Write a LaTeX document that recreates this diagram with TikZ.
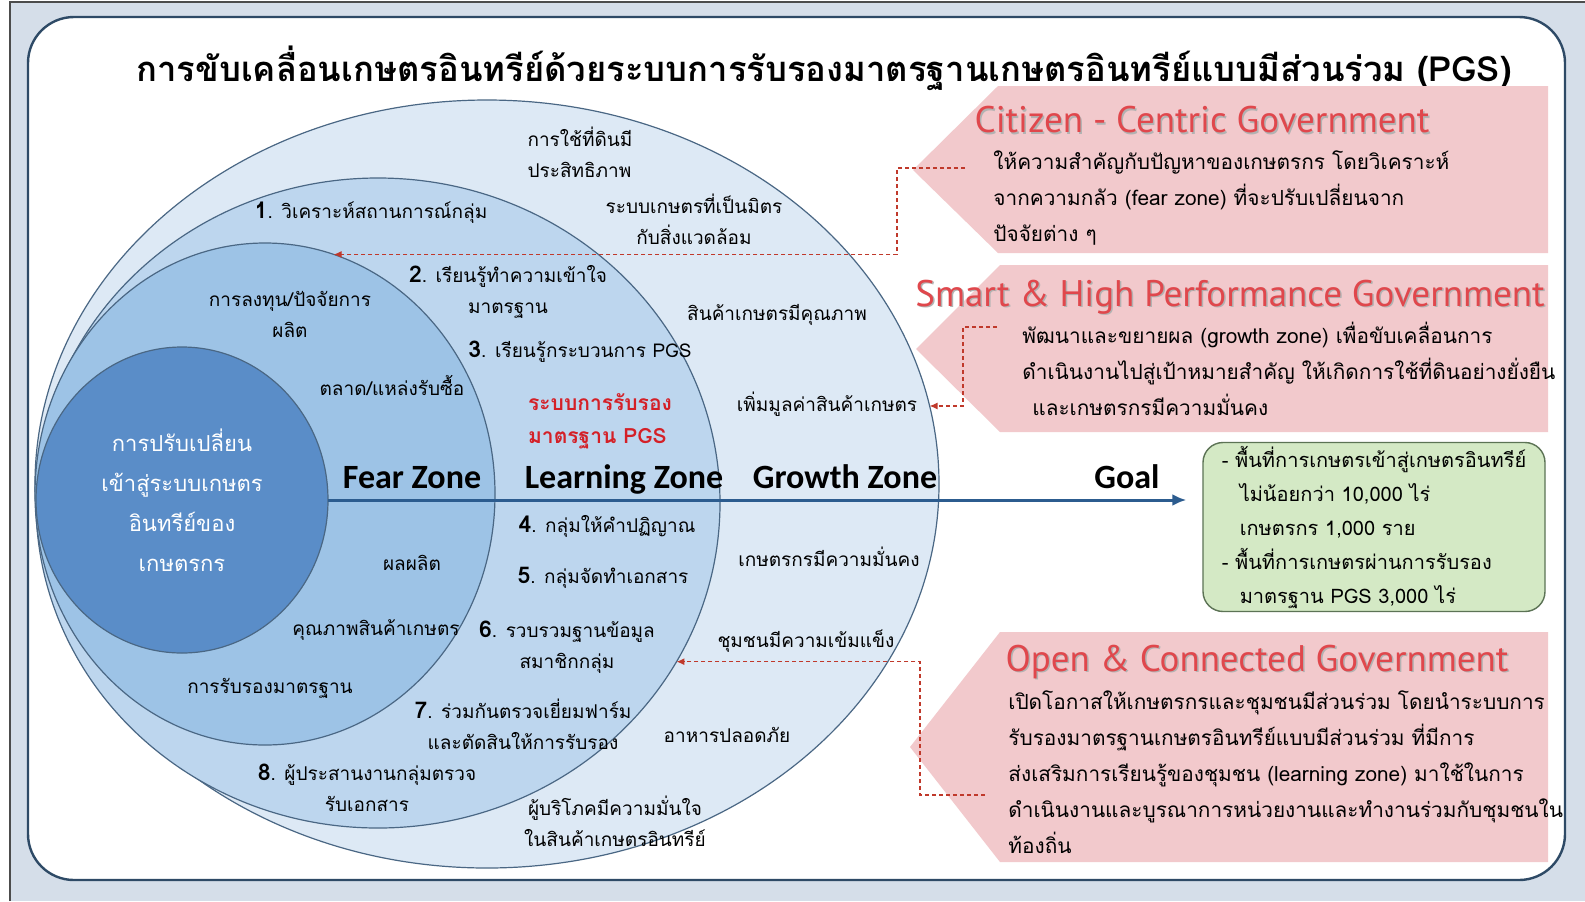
\documentclass[tikz,border=0pt]{standalone}
\usepackage{fontspec}
\usetikzlibrary{shapes.geometric,arrows.meta,positioning}

\newfontfamily\thai[Script=Thai]{Loma}
\newfontfamily\zonefont{Carlito}
\newfontfamily\govfont{PT Sans}

\definecolor{bgblue}{HTML}{D5DEE9}
\definecolor{frameline}{HTML}{2E4A66}
\definecolor{growthfill}{HTML}{DDE9F5}
\definecolor{learnfill}{HTML}{BDD6EE}
\definecolor{fearfill}{HTML}{9DC3E6}
\definecolor{corefill}{HTML}{5A8DC8}
\definecolor{zoneline}{HTML}{4A6784}
\definecolor{pinkfill}{HTML}{F2C9CC}
\definecolor{govred}{HTML}{E0474C}
\definecolor{linkred}{HTML}{C0392B}
\definecolor{goalline}{HTML}{2C5C8F}
\definecolor{goalfill}{HTML}{D4E9C5}
\definecolor{goaldraw}{HTML}{5C7355}
\definecolor{pgsred}{HTML}{D42027}

% bold step number in front of each learning step
\newcommand{\stepno}[1]{{\fontsize{11.5}{11.5}\selectfont\bfseries #1}.}

\tikzset{
  zone/.style={ellipse, draw=zoneline, line width=0.6pt, inner sep=0pt, outer sep=0pt},
  txt/.style={font=\thai\fontsize{9.5}{15.5}\selectfont, align=center, inner sep=0pt},
  zonelabel/.style={font=\zonefont\bfseries\fontsize{17}{17}\selectfont, anchor=base, inner sep=0pt},
  govhead/.style={font=\govfont\fontsize{18.5}{18.5}\selectfont, text=govred, inner sep=0pt},
  govshadow/.style={govhead, text=black!30},
  govtext/.style={font=\thai\fontsize{10.4}{18}\selectfont, align=left, anchor=west, inner sep=0pt},
  pinkbox/.style={fill=pinkfill},
  dashlink/.style={draw=linkred, dash pattern=on 2pt off 1.5pt, line width=0.6pt,
    -{Latex[length=4pt,width=3.5pt]}},
  goalbox/.style={rectangle, rounded corners=10pt, fill=goalfill, draw=goaldraw, line width=0.7pt,
    minimum width=171pt, minimum height=84.5pt, inner sep=0pt,
    font=\thai\fontsize{10}{17}\selectfont, align=left}
}

\begin{document}
\begin{tikzpicture}[x=0.5pt, y=-0.5pt]
\useasboundingbox (0,0) rectangle (1585,901);

% page frame
\fill[white] (0,0) rectangle (1585,901);
\fill[bgblue] (10,2) rectangle (1585,901);
\draw[black!70, line width=1pt] (10,901) -- (10,2) -- (1585,2);
\draw[fill=white, draw=frameline, line width=1.2pt, rounded corners=23pt] (28,17) rectangle (1565,880);

\node[font=\thai\bfseries\fontsize{17.3}{17.3}\selectfont, inner sep=0pt] (title) at (824,68)
  {การขับเคลื่อนเกษตรอินทรีย์ด้วยระบบการรับรองมาตรฐานเกษตรอินทรีย์แบบมีส่วนร่วม (PGS)};

% the four zones
\node[zone, fill=growthfill, minimum width=452pt, minimum height=384pt] (growth) at (487,484) {};
\node[zone, fill=learnfill, minimum width=342pt, minimum height=325pt] (learning) at (378,503) {};
\node[zone, fill=fearfill, minimum width=230pt, minimum height=251pt] (fear) at (265,494) {};
\node[zone, fill=corefill, minimum width=146pt, minimum height=153pt, text=white,
  font=\thai\fontsize{11}{20}\selectfont, align=center] (core) at (182,500)
  {การปรับเปลี่ยน\\เข้าสู่ระบบเกษตร\\อินทรีย์ของ\\เกษตรกร};

% growth zone
\node[txt, align=left] (g1) at (580,152) {การใช้ที่ดินมี\\ประสิทธิภาพ};
\node[txt] (g2) at (694,219) {ระบบเกษตรที่เป็นมิตร\\กับสิ่งแวดล้อม};
\node[txt] (g3) at (777,315) {สินค้าเกษตรมีคุณภาพ};
\node[txt] (g4) at (827,404) {เพิ่มมูลค่าสินค้าเกษตร};
\node[txt] (g5) at (829,557) {เกษตรกรมีความมั่นคง};
\node[txt] (g6) at (806,641) {ชุมชนมีความเข้มแข็ง};
\node[txt] (g7) at (727,735) {อาหารปลอดภัย};
\node[txt] (g8) at (615,821) {ผู้บริโภคมีความมั่นใจ\\ในสินค้าเกษตรอินทรีย์};

% learning zone
\node[txt] (l1) at (371,213) {\stepno{1} วิเคราะห์สถานการณ์กลุ่ม};
\node[txt] (l2) at (508,292) {\stepno{2} เรียนรู้ทำความเข้าใจ\\มาตรฐาน};
\node[txt] (l3) at (580,352) {\stepno{3} เรียนรู้กระบวนการ PGS};
\node[txt, align=left, text=pgsred, font=\thai\bfseries\fontsize{10.5}{16.5}\selectfont] (pgs) at (600,421)
  {ระบบการรับรอง\\มาตรฐาน PGS};
\node[txt] (l4) at (607,526) {\stepno{4} กลุ่มให้คำปฏิญาณ};
\node[txt] (l5) at (603,578) {\stepno{5} กลุ่มจัดทำเอกสาร};
\node[txt] (l6) at (567,647) {\stepno{6} รวบรวมฐานข้อมูล\\สมาชิกกลุ่ม};
\node[txt] (l7) at (523,724) {\stepno{7} ร่วมกันตรวจเยี่ยมฟาร์ม\\และตัดสินให้การรับรอง};
\node[txt] (l8) at (367,788) {\stepno{8} ผู้ประสานงานกลุ่มตรวจ\\รับเอกสาร};

% fear zone
\node[txt] (f1) at (290,314) {การลงทุน/ปัจจัยการ\\ผลิต};
\node[txt] (f2) at (392,385) {ตลาด/แหล่งรับซื้อ};
\node[txt] (f3) at (412,563) {ผลผลิต};
\node[txt] (f4) at (376,630) {คุณภาพสินค้าเกษตร};
\node[txt] (f5) at (270,688) {การรับรองมาตรฐาน};

% goal
\node[goalbox] (goal) at (1374,527)
  {- พื้นที่การเกษตรเข้าสู่เกษตรอินทรีย์\\
   \hspace*{9pt}ไม่น้อยกว่า 10,000 ไร่\\
   \hspace*{9pt}เกษตรกร 1,000 ราย\\
   - พื้นที่การเกษตรผ่านการรับรอง\\
   \hspace*{9pt}มาตรฐาน PGS 3,000 ไร่};

\draw[goalline, line width=1.5pt, -{Latex[length=7pt,width=6pt]}, shorten >=8pt]
  (core.east) -- (core.east -| goal.west);

\node[zonelabel] (fearlbl) at (412,488) {Fear Zone};
\node[zonelabel] (learnlbl) at (624,488) {Learning Zone};
\node[zonelabel] (growlbl) at (845,488) {Growth Zone};
\node[zonelabel] (goallbl) at (1127,488) {Goal};

% government arrows
\fill[pinkbox] (998,86) -- (1548,86) -- (1548,253) -- (998,253) -- (913,170) -- cycle;
\fill[pinkbox] (1000,265) -- (1548,265) -- (1548,432) -- (1000,432) -- (916,349) -- cycle;
\fill[pinkbox] (1000,632) -- (1548,632) -- (1548,862) -- (1000,862) -- (910,747) -- cycle;

\node[govshadow] (h1s) at (1203.5,121.5) {Citizen - Centric Government};
\node[govhead] (h1) at (1202,120) {Citizen - Centric Government};
\node[govtext] (t1) at (993,198)
  {ให้ความสำคัญกับปัญหาของเกษตรกร โดยวิเคราะห์\\
   จากความกลัว (fear zone) ที่จะปรับเปลี่ยนจาก\\
   ปัจจัยต่าง ๆ};

\node[govshadow] (h2s) at (1231.5,298.5) {Smart \& High Performance Government};
\node[govhead] (h2) at (1230,297) {Smart \& High Performance Government};
\node[govtext] (t2) at (1022,369)
  {พัฒนาและขยายผล (growth zone) เพื่อขับเคลื่อนการ\\
   ดำเนินงานไปสู่เป้าหมายสำคัญ ให้เกิดการใช้ที่ดินอย่างยั่งยืน\\
   \hspace*{5pt}และเกษตรกรมีความมั่นคง};

\node[govshadow] (h3s) at (1258.5,663.5) {Open \& Connected Government};
\node[govhead] (h3) at (1257,662) {Open \& Connected Government};
\node[govtext] (t3) at (1008,772)
  {เปิดโอกาสให้เกษตรกรและชุมชนมีส่วนร่วม โดยนำระบบการ\\
   รับรองมาตรฐานเกษตรอินทรีย์แบบมีส่วนร่วม ที่มีการ\\
   ส่งเสริมการเรียนรู้ของชุมชน (learning zone) มาใช้ในการ\\
   ดำเนินงานและบูรณาการหน่วยงานและทำงานร่วมกับชุมชนใน\\
   ท้องถิ่น};

% dashed links back to the zones
\coordinate (c1s) at (965,168);
\coordinate (c1k) at (897,168);
\draw[dashlink] (c1s) -- (c1k) |- (fear.74);

\coordinate (c2s) at (997,327);
\coordinate (c2k) at (963,327);
\draw[dashlink] (c2s) -- (c2k) |- (growth.10);

\coordinate (c3s) at (985,795);
\coordinate (c3k) at (920,795);
\draw[dashlink] (c3s) -- (c3k) |- (learning.-28);
\end{tikzpicture}
\end{document}
